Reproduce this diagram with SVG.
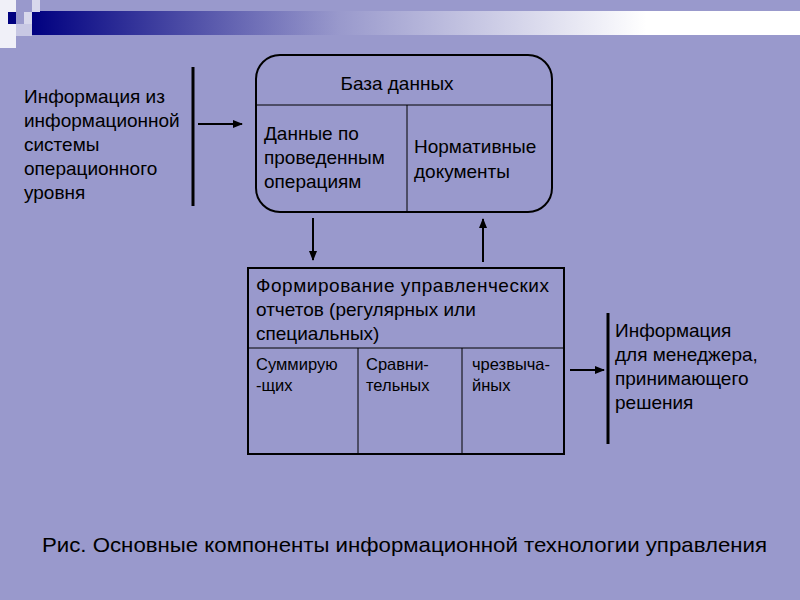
<svg xmlns="http://www.w3.org/2000/svg" width="800" height="600" viewBox="0 0 800 600">
<defs>
<linearGradient id="g" x1="0" x2="1" y1="0" y2="0"><stop offset="0" stop-color="#000080"/><stop offset="0.4" stop-color="#9999CC"/><stop offset="0.8" stop-color="#ffffff"/></linearGradient>
<marker id="a" markerWidth="10" markerHeight="8" refX="9" refY="4" orient="auto" markerUnits="userSpaceOnUse"><path d="M0,0 L10,4 L0,8 z" fill="#000"/></marker>
<style>
text{font-family:"Liberation Sans",Arial,sans-serif;fill:#000}
.m{font-size:19px}.s{font-size:16.5px}
.l{stroke:#000;stroke-width:3;fill:none}
.b{stroke:#000;stroke-width:2;fill:none}
.t{stroke:#000;stroke-width:1;fill:none}
</style>
</defs>
<rect width="800" height="600" fill="#9999CC"/>
<rect x="32" y="11" width="768" height="24" fill="url(#g)"/>
<rect x="0" y="0" width="16" height="48" fill="#F0F0F8"/>
<rect x="8" y="12" width="8" height="12" fill="#000080"/>
<rect x="16" y="24" width="16" height="12" fill="#C8C8E4"/>
<rect x="24" y="12" width="8" height="12" fill="#D8D8EC"/>
<rect x="32" y="0" width="8" height="12" fill="#D8D8EC"/>
<g id="src"><text class="m" x="24" y="103">Информация из</text><text class="m" x="24" y="127">информационной</text><text class="m" x="24" y="151">системы</text><text class="m" x="24" y="175">операционного</text><text class="m" x="24" y="199">уровня</text><line class="l" x1="193" y1="67" x2="193" y2="206"/></g>
<g id="db"><rect class="b" x="256" y="55" width="296" height="157" rx="24"/><line class="t" x1="256" y1="105" x2="552" y2="105"/><line class="t" x1="407" y1="105" x2="407" y2="212"/>
<text class="m" x="397" y="90" text-anchor="middle">База данных</text>
<text class="m" x="264" y="140">Данные по</text><text class="m" x="264" y="164">проведенным</text><text class="m" x="264" y="188">операциям</text>
<text class="m" x="414" y="153">Нормативные</text><text class="m" x="414" y="178">документы</text></g>
<g id="rep"><rect class="b" x="248" y="268" width="316" height="186"/><line class="t" x1="248" y1="348" x2="564" y2="348"/><line class="t" x1="358" y1="348" x2="358" y2="454"/><line class="t" x1="462" y1="348" x2="462" y2="454"/>
<text class="m" x="256" y="292" textLength="293">Формирование управленческих</text><text class="m" x="256" y="316">отчетов (регулярных или</text><text class="m" x="256" y="340">специальных)</text>
<text class="s" x="256" y="370">Суммирую</text><text class="s" x="256" y="391">-щих</text>
<text class="s" x="366" y="370">Сравни-</text><text class="s" x="366" y="391">тельных</text>
<text class="s" x="472" y="370">чрезвыча-</text><text class="s" x="472" y="391">йных</text></g>
<g id="dst"><line class="l" x1="608" y1="313" x2="608" y2="444"/><text class="m" x="615" y="337">Информация</text><text class="m" x="615" y="361">для менеджера,</text><text class="m" x="615" y="385">принимающего</text><text class="m" x="615" y="409">решения</text></g>
<g id="edges"><line class="b" x1="198" y1="124" x2="242" y2="124" marker-end="url(#a)"/><line class="b" x1="313" y1="218" x2="313" y2="260" marker-end="url(#a)"/><line class="b" x1="483" y1="262" x2="483" y2="219" marker-end="url(#a)"/><line class="b" x1="570" y1="370" x2="604" y2="370" marker-end="url(#a)"/></g>
<text x="42" y="552" textLength="725" lengthAdjust="spacingAndGlyphs" style="font-size:21px">Рис. Основные компоненты информационной технологии управления</text>
</svg>
